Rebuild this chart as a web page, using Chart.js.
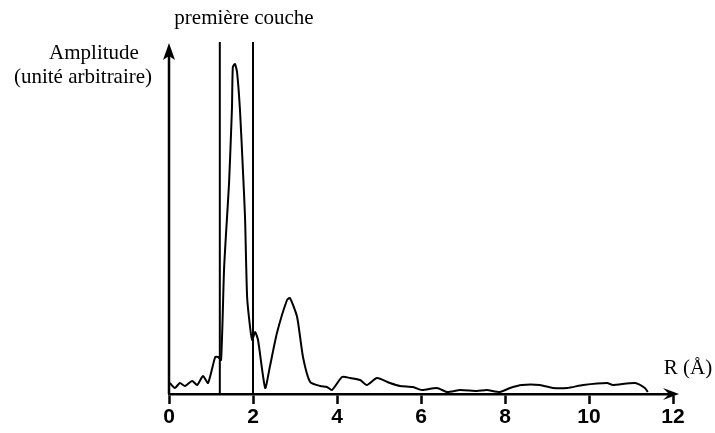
<!DOCTYPE html>
<html>
<head>
<meta charset="utf-8">
<script src="https://cdn.jsdelivr.net/npm/chart.js@4"></script>
<style>
  html, body { margin: 0; padding: 0; background: #fff; }
  #box { width: 715px; height: 433px; }
</style>
</head>
<body>
<div id="box"><canvas id="graphe"></canvas></div>
<script>
// distance R (Å) et amplitude (unité arbitraire)
const rValues = [0.02, 0.14, 0.26, 0.38, 0.55, 0.67, 0.81, 0.93, 1.10, 1.17, 1.24, 1.31, 1.36, 1.43, 1.48, 1.50, 1.52, 1.57, 1.62, 1.69, 1.76, 1.81, 1.86, 1.93, 1.98, 2.05, 2.12, 2.29, 2.40, 2.57, 2.81, 2.88, 3.05, 3.19, 3.36, 3.60, 3.76, 3.88, 4.12, 4.31, 4.55, 4.71, 4.95, 5.26, 5.50, 5.81, 6.02, 6.38, 6.62, 6.93, 7.33, 7.57, 7.88, 8.12, 8.40, 8.83, 9.14, 9.48, 9.86, 10.43, 10.57, 11.10, 11.33, 11.40];
const amplitude = [11, 6, 11, 8, 13, 9, 18, 11, 37, 37, 34, 124, 162, 211, 264, 287, 327, 330, 322, 284, 224, 177, 97, 67, 54, 62, 54, 6, 27, 61, 94, 96, 77, 37, 12, 8, 7, 4, 17, 16, 14, 9, 16, 11, 8, 7, 4, 6, 2, 4, 3, 4, 2, 6, 9, 9, 6, 6, 9, 11, 9, 11, 6, 2];
// limites de la première couche
const coucheBornes = [1.21, 2.0];
const xTicks = [0, 2, 4, 6, 8, 10, 12];

const courbe = rValues.map((r, i) => ({ x: r, y: amplitude[i] }));

const serif = '"Liberation Serif", "Times New Roman", serif';

// axes avec flèches et textes
const annotations = {
    id: 'annotations',
    afterDraw(chart) {
        const ctx = chart.ctx;
        const xs = chart.scales.x, ys = chart.scales.y;
        const x0 = xs.getPixelForValue(0);
        const yb = ys.getPixelForValue(0);
        const yt = ys.getPixelForValue(351);
        ctx.save();
        ctx.strokeStyle = '#000';
        ctx.fillStyle = '#000';
        ctx.lineWidth = 2.5;
        // axe vertical
        ctx.beginPath();
        ctx.moveTo(x0, yb);
        ctx.lineTo(x0, yt + 10);
        ctx.stroke();
        ctx.beginPath();
        ctx.moveTo(x0, yt);
        ctx.lineTo(x0 - 6, yt + 17);
        ctx.lineTo(x0, yt + 13);
        ctx.lineTo(x0 + 6, yt + 17);
        ctx.closePath();
        ctx.fill();
        // flèche de l'axe horizontal
        const xr = xs.getPixelForValue(12);
        ctx.beginPath();
        ctx.moveTo(xr - 4, yb);
        ctx.lineTo(xr - 10, yb - 6);
        ctx.lineTo(xr + 6, yb);
        ctx.lineTo(xr - 10, yb + 6);
        ctx.closePath();
        ctx.fill();
        // textes
        ctx.font = '21px ' + serif;
        ctx.textAlign = 'center';
        ctx.textBaseline = 'middle';
        ctx.fillText('première couche', 244, 18);
        ctx.fillText('Amplitude', 94, 53);
        ctx.fillText('(unité arbitraire)', 83, 77);
        ctx.fillText('R (Å)', 688, 368);
        ctx.restore();
    }
};

const datasets = [{
    data: courbe,
    borderColor: '#000',
    borderWidth: 2,
    pointRadius: 0,
    tension: 0.2,
    clip: false
}];
coucheBornes.forEach(r => {
    datasets.push({
        data: [{ x: r, y: 0 }, { x: r, y: 352 }],
        borderColor: '#000',
        borderWidth: 2,
        pointRadius: 0,
        clip: false
    });
});

new Chart(document.getElementById('graphe'), {
    type: 'line',
    data: { datasets: datasets },
    options: {
        responsive: true,
        maintainAspectRatio: false,
        animation: false,
        layout: { padding: { left: 169, right: 42, top: 43, bottom: 0 } },
        plugins: { legend: { display: false }, tooltip: { enabled: false } },
        scales: {
            x: {
                type: 'linear',
                min: 0,
                max: 12,
                afterFit(scale) { scale.height = 39; },
                afterBuildTicks(scale) { scale.ticks = xTicks.map(v => ({ value: v })); },
                grid: { drawOnChartArea: false, drawTicks: true, tickLength: 10, tickWidth: 2.5, color: '#000' },
                border: { display: true, color: '#000', width: 2.5 },
                ticks: {
                    color: '#000',
                    padding: 1,
                    maxRotation: 0,
                    font: { family: '"Liberation Sans", Arial, sans-serif', size: 21, weight: 'bold' }
                }
            },
            y: {
                display: false,
                min: 0,
                max: 351
            }
        }
    },
    plugins: [annotations]
});
</script>
</body>
</html>
